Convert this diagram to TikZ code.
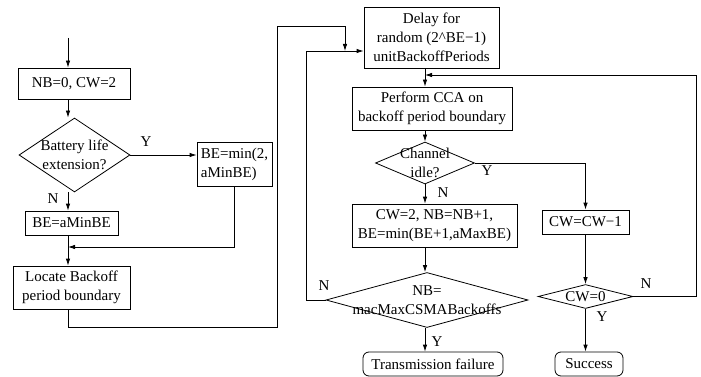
\documentclass[tikz,border=0pt]{standalone}
\usepackage{fontspec}
\setmainfont{Liberation Serif}
\usetikzlibrary{shapes.geometric,arrows.meta}

\tikzset{
	every node/.style={font=\fontsize{15}{19}\selectfont},
	box/.style={draw, rectangle, inner sep=0pt, align=center},
	decision/.style={draw, diamond, inner sep=0pt},
	terminal/.style={draw, rectangle, rounded corners=6pt, inner sep=0pt},
	arr/.style={-{Latex[length=7pt,width=4.5pt]}},
	tag/.style={inner sep=0pt},
}

\begin{document}
\begin{tikzpicture}[x=1pt, y=-1pt, line width=0.8pt]
	\useasboundingbox (0,0) rectangle (701,377);

	% left column
	\node[box, minimum width=112, minimum height=31] (init) at (74,83.5) {NB=0, CW=2};
	\node[decision, minimum width=111, minimum height=74,
		label={[align=center]center:Battery life\\extension?}] (batt) at (74.5,155) {};
	\node[box, align=left, minimum width=75, minimum height=44] (bemin) at (234.5,164) {BE=min(2,\\aMinBE)};
	\node[box, minimum width=93, minimum height=24] (beamin) at (71.5,223) {BE=aMinBE};
	\node[box, minimum width=117, minimum height=43] (locate) at (71.5,287.5) {Locate Backoff\\period boundary};

	% middle column
	\node[box, minimum width=135, minimum height=61] (delay) at (431.5,37.5) {Delay for\\random (2\textasciicircum BE−1)\\unitBackoffPeriods};
	\node[box, minimum width=160, minimum height=43] (cca) at (432,108.5) {Perform CCA on\\backoff period boundary};
	\node[decision, minimum width=99, minimum height=42,
		label={[align=center]center:Channel\\idle?}] (idle) at (425,163) {};
	\node[box, minimum width=165, minimum height=43] (cwinc) at (434.5,225.5) {CW=2, NB=NB+1,\\BE=min(BE+1,aMaxBE)};
	\node[decision, minimum width=202, minimum height=55,
		label={[align=center]center:NB=\\macMaxCSMABackoffs}] (maxbo) at (427,300) {};
	\node[terminal, minimum width=140, minimum height=24] (fail) at (433,364) {Transmission failure};

	% right column
	\node[box, minimum width=87, minimum height=24] (cwdec) at (585.5,222) {CW=CW−1};
	\node[decision, minimum width=95, minimum height=24,
		label={center:CW=0}] (cwzero) at (585.5,296.5) {};
	\node[terminal, minimum width=68, minimum height=24] (success) at (589,364) {Success};

	% helper points
	\coordinate (start) at (68,38);
	\coordinate (join) at (68,247);
	\coordinate (merge) at (345,51);
	\coordinate (col) at (425,0);
	\coordinate (back) at (425,75);

	% connectors
	\draw[arr] (start) -- (start |- init.north);
	\draw[arr] (start |- init.south) -- (start |- batt.north);
	\draw[arr] (batt.east) -- (bemin.west |- batt.east);
	\draw[arr] (start |- batt.south) -- (start |- beamin.north);
	\draw (start |- beamin.south) -- (join);
	\draw[arr] (bemin.south) |- (join);
	\draw[arr] (join) -- (start |- locate.north);
	\draw[arr] (start |- locate.south) |- (277,327) |- (345,26) -- (merge);
	\draw[arr] (maxbo.west) -- ++(-19,0) |- (delay.west |- merge);
	\draw[arr] (col |- delay.south) -- (col |- cca.north);
	\draw[arr] (col |- cca.south) -- (idle.north);
	\draw[arr] (idle.south) -- (col |- cwinc.north);
	\draw[arr] (col |- cwinc.south) -- (col |- maxbo.north);
	\draw[arr] (col |- maxbo.south) -- (col |- fail.north);
	\draw[arr] (idle.east) -| (cwdec.north);
	\draw[arr] (cwdec.south) -- (cwzero.north);
	\draw[arr] (cwzero.south) -- (cwzero.south |- success.north);
	\draw[arr] (cwzero.east) -- ++(63,0) |- (back);

	% branch labels
	\node[tag] (y1) at (146,142) {Y};
	\node[tag] (n1) at (53,199) {N};
	\node[tag] (y2) at (487,171) {Y};
	\node[tag] (n2) at (443,193) {N};
	\node[tag] (n3) at (324,286) {N};
	\node[tag] (y3) at (437,342) {Y};
	\node[tag] (n4) at (646,284) {N};
	\node[tag] (y4) at (602,317) {Y};
\end{tikzpicture}
\end{document}
